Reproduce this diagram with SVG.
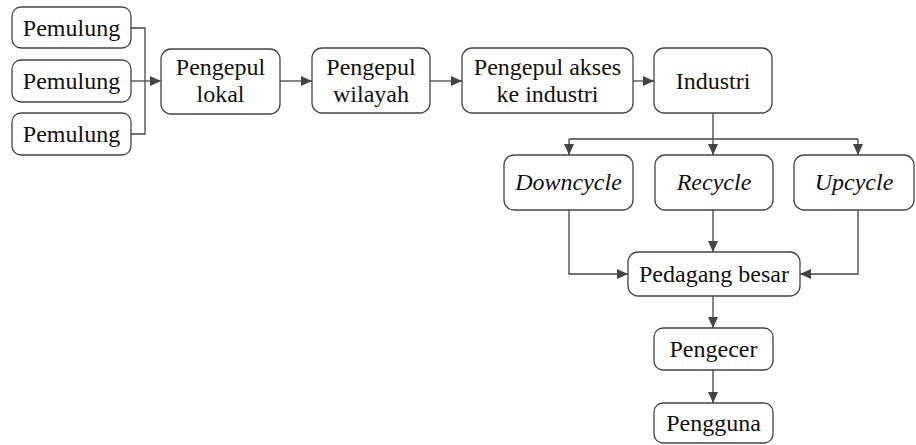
<svg xmlns="http://www.w3.org/2000/svg" width="916" height="445" viewBox="0 0 916 445">
<style>
.box{fill:#fff;stroke:#444;stroke-width:1.3}
.c{fill:none;stroke:#444;stroke-width:1.3}
</style>
<defs>
<marker id="a" markerUnits="userSpaceOnUse" markerWidth="11" markerHeight="10" refX="11" refY="5" orient="auto"><path d="M0,0 L11,5 L0,10 Z" fill="#444"/></marker>
</defs>
<g id="connectors">
<path class="c" d="M131 28 H145 V134 H131"/>
<path class="c" d="M131 81 H161" marker-end="url(#a)"/>
<path class="c" d="M280 81 H312" marker-end="url(#a)"/>
<path class="c" d="M430 81 H462" marker-end="url(#a)"/>
<path class="c" d="M633 81 H654" marker-end="url(#a)"/>
<path class="c" d="M713 113 V155" marker-end="url(#a)"/>
<path class="c" d="M569 139 H858"/>
<path class="c" d="M569 139 V155" marker-end="url(#a)"/>
<path class="c" d="M858 139 V155" marker-end="url(#a)"/>
<path class="c" d="M569 210 V274 H628" marker-end="url(#a)"/>
<path class="c" d="M713 210 V252" marker-end="url(#a)"/>
<path class="c" d="M858 210 V274 H800" marker-end="url(#a)"/>
<path class="c" d="M713 296 V328" marker-end="url(#a)"/>
<path class="c" d="M713 370 V403" marker-end="url(#a)"/>
</g>
<g font-family="Liberation Serif, serif" font-size="24" fill="#111" text-anchor="middle">
<g id="pemulung1"><rect class="box" x="12" y="7" width="119" height="41" rx="9"/><text x="71.5" y="35.5">Pemulung</text></g>
<g id="pemulung2"><rect class="box" x="12" y="60" width="119" height="42" rx="9"/><text x="71.5" y="89">Pemulung</text></g>
<g id="pemulung3"><rect class="box" x="12" y="113" width="119" height="42" rx="9"/><text x="71.5" y="142">Pemulung</text></g>
<g id="pengepul-lokal"><rect class="box" x="161" y="49" width="119" height="65" rx="10"/><text x="220.5" y="75">Pengepul</text><text x="220.5" y="102">lokal</text></g>
<g id="pengepul-wilayah"><rect class="box" x="312" y="48" width="118" height="65" rx="10"/><text x="371" y="75">Pengepul</text><text x="371" y="102">wilayah</text></g>
<g id="pengepul-akses"><rect class="box" x="462" y="48" width="171" height="65" rx="10"/><text x="547.5" y="75">Pengepul akses</text><text x="547.5" y="102">ke industri</text></g>
<g id="industri"><rect class="box" x="654" y="48" width="118" height="65" rx="10"/><text x="713" y="89">Industri</text></g>
<g id="downcycle"><rect class="box" x="504" y="155" width="129" height="55" rx="10"/><text font-style="italic" x="568.5" y="190">Downcycle</text></g>
<g id="recycle"><rect class="box" x="655" y="155" width="118" height="55" rx="10"/><text font-style="italic" x="714" y="190">Recycle</text></g>
<g id="upcycle"><rect class="box" x="794" y="155" width="120" height="55" rx="10"/><text font-style="italic" x="854" y="190">Upcycle</text></g>
<g id="pedagang-besar"><rect class="box" x="628" y="252" width="172" height="44" rx="10"/><text x="714" y="282">Pedagang besar</text></g>
<g id="pengecer"><rect class="box" x="654" y="328" width="119" height="42" rx="9"/><text x="713.5" y="357">Pengecer</text></g>
<g id="pengguna"><rect class="box" x="654" y="403" width="119" height="40" rx="9"/><text x="713.5" y="431">Pengguna</text></g>
</g>
</svg>
